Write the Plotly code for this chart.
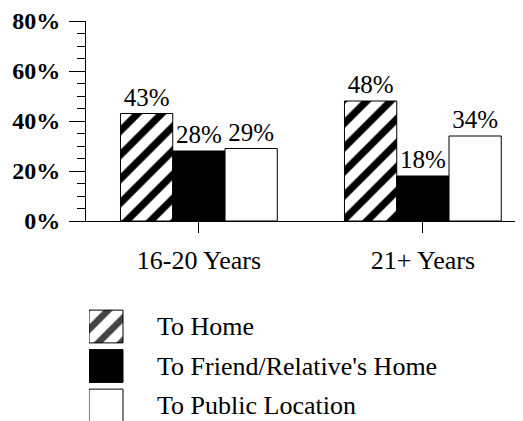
import plotly.graph_objects as go

categories = ["16-20 Years", "21+ Years"]
series_names = ["To Home", "To Friend/Relative's Home", "To Public Location"]
to_home = [43, 48]
to_friend = [28, 18]
to_public = [29, 34]
y_ticks = [0, 20, 40, 60, 80]
y_tick_labels = ["0%", "20%", "40%", "60%", "80%"]

OFF = 8  # browser body margin
W, H = 523 - OFF, 421 - OFF
FONT = "Liberation Serif"

fig = go.Figure()

styles = [
    dict(color="white", pattern=dict(shape="/", fgcolor="black", bgcolor="white", size=17,
                                     solidity=0.42, fillmode="overlay", fgopacity=1)),
    dict(color="black"),
    dict(color="white"),
]

for name, vals, st in zip(series_names, [to_home, to_friend, to_public], styles):
    fig.add_trace(go.Bar(
        x=categories, y=vals, name=name,
        marker=dict(line=dict(color="black", width=1), **st),
        text=[f"{v}%" for v in vals], texttemplate="%{text}", textposition="outside",
        textfont=dict(family=FONT, size=25, color="black"),
        constraintext="none", cliponaxis=False, showlegend=False,
        xaxis="x", yaxis="y",
    ))

# legend drawn as a small bar chart on its own axes
fig.add_trace(go.Bar(
    y=series_names, x=[1, 1, 1], orientation="h", width=0.83,
    marker=dict(
        color=["white", "black", "white"],
        line=dict(color="black", width=1),
        pattern=dict(shape=["/", "", ""], fgcolor="black", bgcolor=["white", "black", "white"],
                     size=16, solidity=0.42, fillmode="overlay", fgopacity=1),
    ),
    hoverinfo="skip", showlegend=False, xaxis="x2", yaxis="y2",
))
for name in series_names:
    fig.add_annotation(x=(155 - 89) / 34, y=name, xref="x2", yref="y2", text=name, showarrow=False,
                       xanchor="left", yanchor="middle",
                       font=dict(family=FONT, size=26, color="black"))

fig.update_layout(
    width=W, height=H,
    margin=dict(l=0, r=0, t=0, b=0),
    paper_bgcolor="white", plot_bgcolor="white",
    barmode="group", bargap=0.3, bargroupgap=0,
    font=dict(family=FONT, color="black"),
    xaxis=dict(
        domain=[(86 - OFF) / W, 1], range=[-0.504, 1.447], showgrid=False, zeroline=False,
        showline=True, linecolor="black", linewidth=1,
        ticks="outside", ticklen=11, tickcolor="black", ticklabelstandoff=5,
        tickfont=dict(family=FONT, size=26, color="black"), automargin=False,
        anchor="y",
    ),
    yaxis=dict(
        domain=[(H - (221 - OFF)) / H, (H - (21 - OFF)) / H], range=[0, 80],
        tickvals=y_ticks, ticktext=y_tick_labels,
        showgrid=False, zeroline=False, showline=True, linecolor="black", linewidth=1,
        ticks="outside", ticklen=16, tickcolor="black", ticklabelstandoff=4,
        minor=dict(ticks="outside", ticklen=8, dtick=5, tickcolor="black", showgrid=False),
        tickfont=dict(family=FONT, size=24, color="black", weight="bold"), automargin=False,
        anchor="x",
    ),
    xaxis2=dict(domain=[(89 - OFF) / W, 1], range=[0, (523 - 89) / 34], visible=False, anchor="y2"),
    yaxis2=dict(domain=[0, (H - (306.75 - OFF)) / H], range=[2.392, -0.5], visible=False,
                type="category", categoryorder="array", categoryarray=series_names, anchor="x2"),
)

fig.write_html("out.html")
